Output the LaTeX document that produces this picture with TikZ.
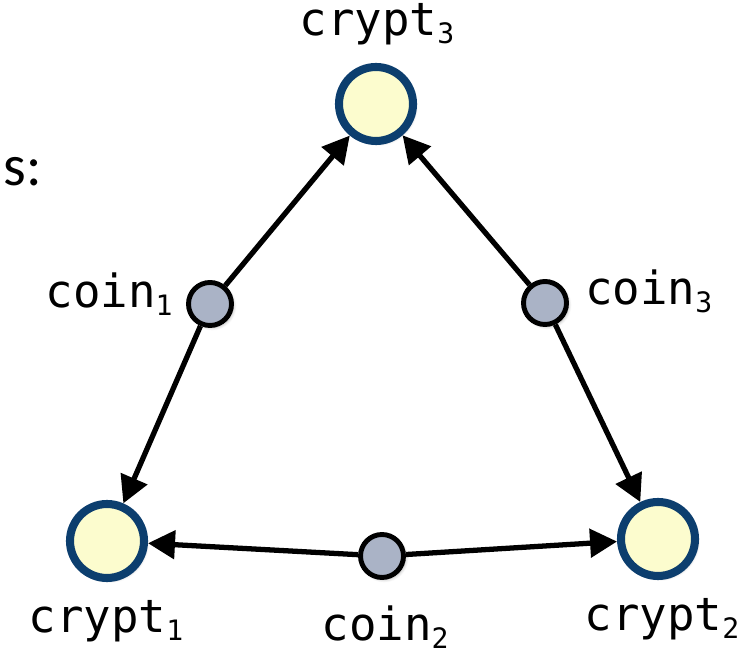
\documentclass[tikz,border=0pt]{standalone}
\usepackage{fontspec}
\setmonofont{DejaVu Sans Mono}
\setsansfont{Carlito}
\usetikzlibrary{arrows.meta}
\usetikzlibrary{shadows.blur}

\definecolor{cryptfill}{RGB}{252,252,206}
\definecolor{cryptline}{RGB}{12,62,110}
\definecolor{coinfill}{RGB}{170,179,198}

% subscript index in the labels
\newcommand{\idx}[1]{\raisebox{-0.3ex}{\fontsize{16}{16}\selectfont #1}}

\begin{document}
\begin{tikzpicture}
  [soft/.style={blur shadow={shadow xshift=1.2pt,shadow yshift=-1.2pt,
                             shadow blur steps=6,shadow opacity=30}},
   crypt/.style={circle,draw=cryptline,fill=cryptfill,line width=4.6pt,
                 minimum size=1.48cm,inner sep=0pt,soft},
   coin/.style={circle,draw=black,fill=coinfill,line width=2.8pt,
                minimum size=0.86cm,inner sep=0pt,soft},
   tag/.style={inner sep=0pt,font=\fontsize{26}{30}\selectfont\ttfamily},
   edge/.style={line width=3pt,-{Triangle[length=0.54cm,width=0.56cm]}}]
  \useasboundingbox (0,0) rectangle (15.1,13.08);

  \node[anchor=west,inner sep=0pt,font=\fontsize{33}{38}\selectfont\sffamily] (note) at (0.06,9.64) {s:};

  \node[crypt] (crypt3) at (7.52,11.0) {};
  \node[crypt] (crypt1) at (2.14,2.26) {};
  \node[crypt] (crypt2) at (13.16,2.30) {};

  \node[coin] (coin1) at (4.20,7.0) {};
  \node[coin] (coin3) at (10.90,7.02) {};
  \node[coin] (coin2) at (7.64,1.96) {};

  \node[tag,anchor=base]      (crypt3tag) at (7.54,12.36) {crypt\idx{3}};
  \node[tag,anchor=base]      (crypt1tag) at (2.12,0.42)  {crypt\idx{1}};
  \node[tag,anchor=base]      (crypt2tag) at (13.24,0.46) {crypt\idx{2}};
  \node[tag,anchor=base]      (coin2tag)  at (7.70,0.26)  {coin\idx{2}};
  \node[tag,anchor=base east] (coin1tag)  at (3.46,6.92)  {coin\idx{1}};
  \node[tag,anchor=base west] (coin3tag)  at (11.70,6.98) {coin\idx{3}};

  \foreach \from/\to in {coin1/crypt3,coin1/crypt1,coin3/crypt3,coin3/crypt2,coin2/crypt1,coin2/crypt2}
    \draw[edge] (\from) -- (\to);

\end{tikzpicture}
\end{document}
